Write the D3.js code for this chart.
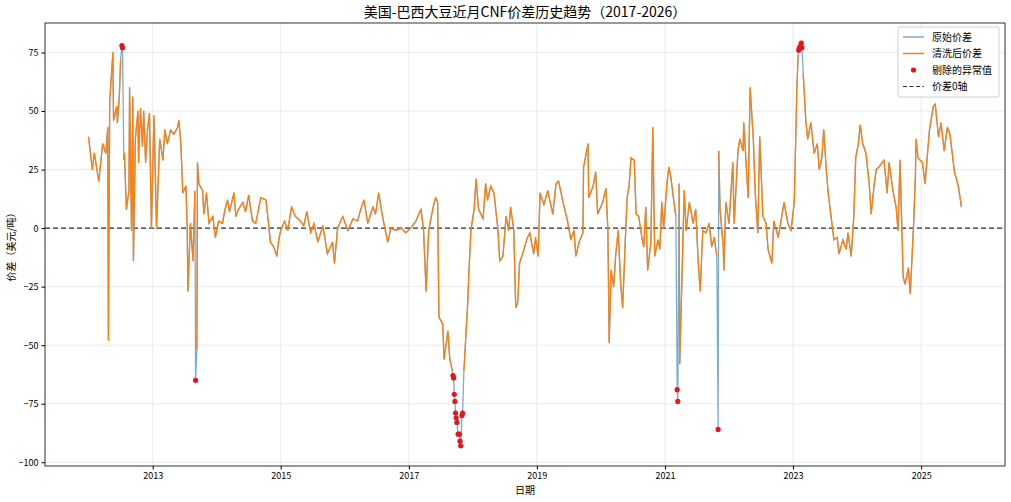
<!DOCTYPE html>
<html><head><meta charset="utf-8">
<script src="https://cdn.jsdelivr.net/npm/d3@7"></script>
<style>
body{margin:0;background:#fff;font-family:"Noto Sans CJK SC","Noto Sans",sans-serif;}
</style></head>
<body><svg id="chart"></svg>
<script>
// 美国-巴西大豆近月CNF价差 (美元/吨), 日期为小数年
var cleanPoints = [
[2012.00,39],[2012.06,25],[2012.09,32],[2012.16,20],[2012.22,36],[2012.27,32],[2012.30,43],[2012.31,-48],
[2012.33,54],[2012.38,75],[2012.39,46],[2012.44,52],[2012.45,45],[2012.48,56],[2012.50,72],
[2012.55,29],[2012.56,32],[2012.59,8],[2012.63,16],[2012.64,60],[2012.67,-1],[2012.69,56],[2012.70,-14],
[2012.73,38],[2012.77,50],[2012.78,28],[2012.81,51],[2012.84,35],[2012.86,50],[2012.89,28],[2012.92,42],
[2012.95,49],[2012.98,0],[2013.02,48],[2013.06,0],[2013.11,38],[2013.16,29],[2013.19,42],[2013.23,36],
[2013.28,42],[2013.33,40],[2013.39,43],[2013.41,46],[2013.44,36],[2013.47,15],[2013.52,18],[2013.54,-1],
[2013.55,-27],[2013.59,2],[2013.63,-14],[2013.66,16],[2013.69,-52],[2013.70,28],[2013.72,19],[2013.78,16],
[2013.80,6],[2013.84,15],[2013.88,2],[2013.94,5],[2013.98,-4],[2014.03,3],[2014.09,2],[2014.13,8],
[2014.17,12],[2014.20,7],[2014.27,15],[2014.30,5],[2014.34,8],[2014.41,11],[2014.45,7],[2014.50,14],
[2014.56,3],[2014.61,2],[2014.69,13],[2014.77,12],[2014.81,2],[2014.84,-6],[2014.89,-8],[2014.94,-12],
[2014.97,-5],[2015.00,-1],[2015.06,3],[2015.11,-1],[2015.17,9],[2015.23,5],[2015.31,3],[2015.36,1],
[2015.41,7],[2015.44,2],[2015.47,-2],[2015.52,2],[2015.58,-6],[2015.66,1],[2015.73,-11],[2015.81,-6],
[2015.84,-15],[2015.89,0],[2015.97,5],[2016.05,-1],[2016.13,4],[2016.20,3],[2016.25,8],[2016.30,12],
[2016.36,2],[2016.44,9],[2016.48,6],[2016.53,15],[2016.59,5],[2016.67,-6],[2016.72,0],[2016.80,-1],
[2016.88,0],[2016.95,-2],[2017.03,0],[2017.11,3],[2017.19,8],[2017.23,-1],[2017.27,-27],[2017.31,-1],
[2017.38,9],[2017.42,13],[2017.45,11],[2017.47,-38],[2017.53,-41],[2017.55,-56],[2017.61,-44],[2017.64,-56],
[2017.68,-61],[2017.86,-61],[2017.92,-32],[2017.94,-18],[2017.97,-1],[2018.02,8],[2018.05,21],[2018.09,8],
[2018.16,4],[2018.20,19],[2018.23,12],[2018.28,18],[2018.33,15],[2018.39,0],[2018.42,-14],[2018.47,-12],
[2018.52,5],[2018.56,-1],[2018.59,9],[2018.64,-1],[2018.67,-34],[2018.70,-32],[2018.73,-15],[2018.80,-9],
[2018.84,-5],[2018.89,-2],[2018.95,-11],[2018.98,-4],[2019.02,-12],[2019.05,15],[2019.11,10],[2019.17,16],
[2019.25,6],[2019.30,19],[2019.34,20],[2019.41,11],[2019.48,3],[2019.53,-5],[2019.58,-1],[2019.61,-12],
[2019.66,-6],[2019.72,-2],[2019.73,26],[2019.80,36],[2019.81,13],[2019.88,18],[2019.92,24],[2019.95,6],
[2020.03,11],[2020.08,17],[2020.11,-1],[2020.13,-49],[2020.16,-18],[2020.20,-25],[2020.23,-12],[2020.27,-1],
[2020.31,-24],[2020.34,-34],[2020.38,-6],[2020.41,13],[2020.44,18],[2020.47,30],[2020.52,29],[2020.55,6],
[2020.59,5],[2020.64,-4],[2020.67,-8],[2020.70,9],[2020.73,-18],[2020.78,-6],[2020.81,43],[2020.84,-12],
[2020.89,-5],[2020.92,-9],[2020.95,11],[2020.98,0],[2021.03,19],[2021.06,26],[2021.09,22],[2021.14,11],
[2021.17,5],[2021.22,19],[2021.23,-58],[2021.30,16],[2021.33,-1],[2021.38,11],[2021.44,2],[2021.48,8],
[2021.52,-15],[2021.55,-27],[2021.59,-1],[2021.64,-2],[2021.69,2],[2021.73,-8],[2021.77,-4],[2021.81,-12],
[2021.84,33],[2021.86,8],[2021.91,-8],[2021.92,-18],[2021.95,11],[2022.00,2],[2022.06,28],[2022.08,2],
[2022.14,33],[2022.17,38],[2022.22,33],[2022.23,45],[2022.30,13],[2022.33,60],[2022.38,38],[2022.41,15],
[2022.45,-2],[2022.48,39],[2022.53,5],[2022.58,2],[2022.61,-9],[2022.67,-15],[2022.70,3],[2022.77,-4],
[2022.86,11],[2022.92,2],[2022.97,-1],[2023.02,11],[2023.06,59],[2023.08,74],[2023.16,66],[2023.20,46],
[2023.23,38],[2023.28,45],[2023.33,32],[2023.38,36],[2023.41,25],[2023.45,30],[2023.48,42],[2023.52,25],
[2023.55,15],[2023.59,6],[2023.64,-5],[2023.69,-4],[2023.72,-11],[2023.78,-5],[2023.83,-9],[2023.86,-2],
[2023.91,-12],[2023.95,5],[2023.98,30],[2024.02,36],[2024.05,44],[2024.09,36],[2024.14,32],[2024.19,19],
[2024.22,6],[2024.27,19],[2024.30,25],[2024.34,26],[2024.42,29],[2024.47,15],[2024.50,28],[2024.56,16],
[2024.61,9],[2024.64,-1],[2024.67,29],[2024.72,-21],[2024.75,-24],[2024.80,-17],[2024.83,-28],[2024.88,0],
[2024.91,22],[2024.92,38],[2024.95,30],[2025.02,28],[2025.06,19],[2025.13,42],[2025.19,52],[2025.22,53],
[2025.27,39],[2025.31,45],[2025.36,33],[2025.41,43],[2025.45,40],[2025.52,24],[2025.58,18],[2025.63,9]
];
var outlierPoints = [
[2012.52,78],[2012.53,77],[2013.67,-65],
[2017.69,-63],[2017.70,-64],[2017.71,-71],[2017.72,-74],[2017.73,-79],[2017.74,-81],[2017.75,-83],
[2017.77,-88],[2017.79,-88],[2017.80,-91],[2017.81,-93],[2017.83,-80],[2017.84,-79],
[2021.19,-69],[2021.20,-74],[2021.83,-86],
[2023.09,76],[2023.10,77],[2023.12,78],[2023.13,79],[2023.14,77]
];
var yTicks = [-100,-75,-50,-25,0,25,50,75];
var xTickYears = [2013,2015,2017,2019,2021,2023,2025];
var legendLabels = ["原始价差","清洗后价差","剔除的异常值","价差0轴"];

var width = 1011, height = 502;
var m = {left:45, right:1005, top:23, bottom:466};

function toDate(y){
  var yr = Math.floor(y);
  var s = new Date(yr,0,1), e = new Date(yr+1,0,1);
  return new Date(+s + (y-yr)*(e-s));
}

// 原始序列 = 清洗后 + 异常值, 清洗后在异常值处断开
var raw = cleanPoints.map(d => ({t:d[0], v:d[1], out:false}))
  .concat(outlierPoints.map(d => ({t:d[0], v:d[1], out:true})))
  .sort((a,b) => a.t - b.t);

var svg = d3.select('#chart').attr('width',width).attr('height',height);

var x = d3.scaleTime().domain([toDate(2011.32), toDate(2026.31)]).range([m.left, m.right]);
var y = d3.scaleLinear().domain([-101.6, 87.6]).range([m.bottom, m.top]);

// grid
svg.append('g').selectAll('line').data(xTickYears).enter().append('line')
  .attr('x1', d => x(toDate(d))).attr('x2', d => x(toDate(d)))
  .attr('y1', m.top).attr('y2', m.bottom)
  .attr('stroke','#e6e6e6').attr('stroke-width',0.8);
svg.append('g').selectAll('line').data(yTicks).enter().append('line')
  .attr('x1', m.left).attr('x2', m.right)
  .attr('y1', d => y(d)).attr('y2', d => y(d))
  .attr('stroke','#e6e6e6').attr('stroke-width',0.8);

// axes
var xAxis = svg.append('g').attr('transform','translate(0,'+m.bottom+')')
  .call(d3.axisBottom(x).tickValues(xTickYears.map(toDate)).tickFormat(d3.timeFormat('%Y')).tickSizeOuter(0).tickSize(3.5));
var yAxis = svg.append('g').attr('transform','translate('+m.left+',0)')
  .call(d3.axisLeft(y).tickValues(yTicks).tickSizeOuter(0).tickSize(3.5));
[xAxis,yAxis].forEach(a => {
  a.selectAll('text').style('font-size','9px').style('font-family','"Noto Sans CJK SC",sans-serif').attr('fill','#000');
  a.select('.domain').remove();
});
svg.append('rect').attr('x',m.left).attr('y',m.top).attr('width',m.right-m.left).attr('height',m.bottom-m.top)
  .attr('fill','none').attr('stroke','#000').attr('stroke-width',0.8);

// zero line
svg.append('line').attr('x1',m.left).attr('x2',m.right).attr('y1',y(0)).attr('y2',y(0))
  .attr('stroke','#333').attr('stroke-width',1.2).attr('stroke-dasharray','5,3');

var line = d3.line().x(d => x(toDate(d.t))).y(d => y(d.v));
svg.append('path').datum(raw).attr('d', line)
  .attr('fill','none').attr('stroke','#1f77b4').attr('stroke-opacity',0.6).attr('stroke-width',1.3);
svg.append('path').datum(raw).attr('d', line.defined(d => !d.out))
  .attr('fill','none').attr('stroke','#ff7f0e').attr('stroke-width',1.3).attr('stroke-linejoin','round');

svg.append('g').selectAll('circle').data(raw.filter(d => d.out)).enter().append('circle')
  .attr('cx', d => x(toDate(d.t))).attr('cy', d => y(d.v)).attr('r',2.6).attr('fill','#e8141b');

// titles
svg.append('text').attr('x',(m.left+m.right)/2).attr('y',17).attr('text-anchor','middle')
  .style('font-size','14px').text('美国-巴西大豆近月CNF价差历史趋势（2017-2026）');
svg.append('text').attr('x',(m.left+m.right)/2).attr('y',494).attr('text-anchor','middle')
  .style('font-size','10px').text('日期');
svg.append('text').attr('transform','translate(15,'+((m.top+m.bottom)/2)+') rotate(-90)').attr('text-anchor','middle')
  .style('font-size','10px').text('价差（美元/吨）');

// legend
var lg = svg.append('g').attr('transform','translate(898,27)');
lg.append('rect').attr('width',101).attr('height',70).attr('rx',2).attr('fill','#fff').attr('fill-opacity',0.85)
  .attr('stroke','#d0d0d0');
legendLabels.forEach((t,i) => {
  var yy = 10 + i*16.5;
  if (i === 0) lg.append('line').attr('x1',5).attr('x2',26).attr('y1',yy).attr('y2',yy).attr('stroke','#1f77b4').attr('stroke-opacity',0.6).attr('stroke-width',1.5);
  if (i === 1) lg.append('line').attr('x1',5).attr('x2',26).attr('y1',yy).attr('y2',yy).attr('stroke','#ff7f0e').attr('stroke-width',1.5);
  if (i === 2) lg.append('circle').attr('cx',15.5).attr('cy',yy).attr('r',2.6).attr('fill','#e8141b');
  if (i === 3) lg.append('line').attr('x1',5).attr('x2',26).attr('y1',yy).attr('y2',yy).attr('stroke','#333').attr('stroke-width',1.2).attr('stroke-dasharray','4,2.5');
  lg.append('text').attr('x',34).attr('y',yy+3.5).style('font-size','10px').text(t);
});
</script></body></html>
